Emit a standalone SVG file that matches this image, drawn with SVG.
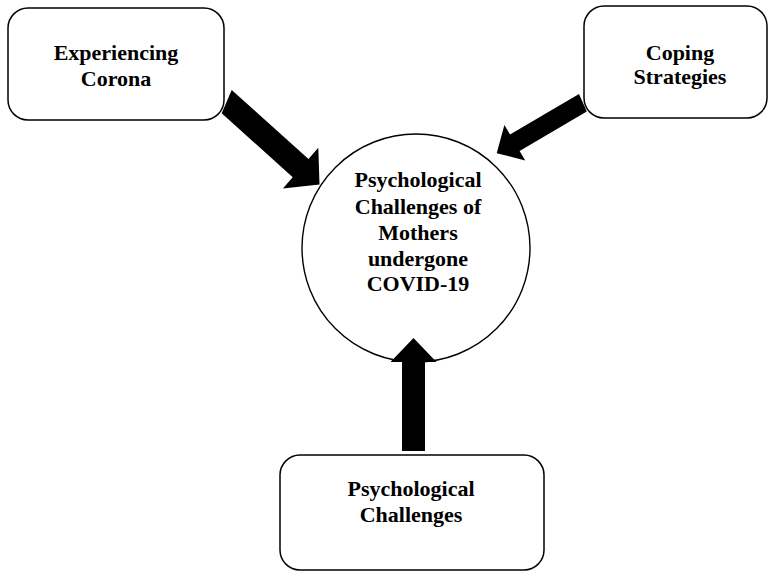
<svg xmlns="http://www.w3.org/2000/svg" width="768" height="573" viewBox="0 0 768 573">
<style>
.box{fill:#fff;stroke:#000;stroke-width:1.5}
.circ{fill:#fff;stroke:#000;stroke-width:1.4}
.arr{fill:#000;stroke:none}
.t{font-family:'Liberation Serif','Times New Roman','DejaVu Serif',serif;font-weight:700;font-size:22px;fill:#000;text-anchor:middle}
</style>
<rect width="768" height="573" fill="#fff"/>
<g id="center">
<circle class="circ" cx="416" cy="248" r="114"/>
<g class="t">
<text x="418" y="187">Psychological</text>
<text x="418" y="213.5">Challenges of</text>
<text x="418" y="239.5">Mothers</text>
<text x="418" y="265.5">undergone</text>
<text x="418" y="291">COVID-19</text>
</g>
</g>
<g id="connectors">
<polygon class="arr" points="231.7,90 308.5,159 318.3,147.7 319.5,184.5 282.9,188.5 292.7,177.2 221.7,113.3"/>
<polygon class="arr" points="579,93.9 510,134.5 504.4,125 496.7,153.3 525.2,160.4 519.6,150.9 586.8,111.4"/>
<polygon class="arr" points="402,451 402,362 390.5,362 413.5,338 436.5,362 425,362 425,451"/>
</g>
<g id="experiencing">
<rect class="box" x="8" y="8" width="216" height="112" rx="20"/>
<g class="t">
<text x="116" y="60">Experiencing</text>
<text x="116" y="86">Corona</text>
</g>
</g>
<g id="coping">
<rect class="box" x="584" y="6" width="183" height="112" rx="20"/>
<g class="t">
<text x="680" y="59.5">Coping</text>
<text x="680" y="84">Strategies</text>
</g>
</g>
<g id="psych">
<rect class="box" x="280" y="455" width="264" height="115" rx="20"/>
<g class="t">
<text x="411" y="496">Psychological</text>
<text x="411" y="522">Challenges</text>
</g>
</g>
</svg>
